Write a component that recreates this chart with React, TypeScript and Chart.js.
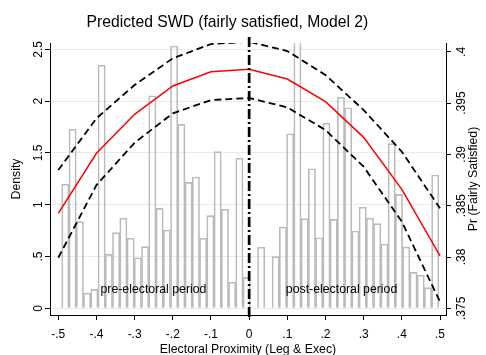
import React, { useEffect, useRef } from "react";
import { Chart, registerables } from "chart.js";

Chart.register(...registerables);

// Histogram bins (mid points) and densities (null = empty bin)
const BIN_MID = [
  -0.4815, -0.4625, -0.4435, -0.4245, -0.4055, -0.3865, -0.3675, -0.3485, -0.3295, -0.3105,
  -0.2915, -0.2725, -0.2535, -0.2345, -0.2155, -0.1965, -0.1775, -0.1585, -0.1395, -0.1205,
  -0.1015, -0.0825, -0.0635, -0.0445, -0.0255, -0.0065, 0.0125, 0.0315, 0.0505, 0.0695,
  0.0885, 0.1075, 0.1265, 0.1455, 0.1645, 0.1835, 0.2025, 0.2215, 0.2405, 0.2595,
  0.2785, 0.2975, 0.3165, 0.3355, 0.3545, 0.3735, 0.3925, 0.4115, 0.4305, 0.4495,
  0.4685, 0.4875,
];
const DENSITY: (number | null)[] = [
  1.197, 1.728, 0.836, 0.145, 0.183, 2.348, 0.521, 0.73, 0.869, 0.676,
  0.488, 0.595, 2.052, 0.965, 0.756, 2.532, 1.776, 1.216, 1.267, 0.676,
  0.894, 1.512, 0.956, 0.251, 1.448, 0.299, null, 0.589, null, 0.498,
  0.785, 1.685, 2.573, 0.865, 1.347, 0.681, 1.786, 0.859, 2.037, 1.936,
  0.746, 0.975, 0.869, 0.817, 0.621, 1.589, 1.1, 0.592, 0.347, 0.319,
  0.199, 1.287,
];

// Predicted probabilities with confidence bounds
const PRED_X = [-0.5, -0.4, -0.3, -0.2, -0.1, 0, 0.1, 0.2, 0.3, 0.4, 0.5];
const PRED = [0.38426, 0.3901, 0.3939, 0.39666, 0.39805, 0.39829, 0.39734, 0.39513, 0.39166, 0.38659, 0.3801];
const UPPER = [0.38847, 0.39351, 0.39676, 0.39936, 0.40075, 0.40097, 0.40007, 0.39773, 0.39432, 0.39026, 0.38474];
const LOWER = [0.37993, 0.38701, 0.39113, 0.394, 0.39529, 0.39549, 0.39458, 0.39237, 0.3888, 0.38344, 0.37564];

const X_TICKS = [-0.5, -0.4, -0.3, -0.2, -0.1, 0, 0.1, 0.2, 0.3, 0.4, 0.5];
const X_TICK_LABELS = ["-.5", "-.4", "-.3", "-.2", "-.1", "0", ".1", ".2", ".3", ".4", ".5"];
const LEFT_TICKS = [0, 0.5, 1, 1.5, 2, 2.5];
const LEFT_TICK_LABELS = ["0", ".5", "1", "1.5", "2", "2.5"];
const RIGHT_TICKS = [0.375, 0.38, 0.385, 0.39, 0.395, 0.4];
const RIGHT_TICK_LABELS = [".375", ".38", ".385", ".39", ".395", ".4"];

const TITLE = "Predicted SWD (fairly satisfied, Model 2)";
const X_TITLE = "Electoral Proximity (Leg & Exec)";
const Y_TITLE = "Density";
const Y2_TITLE = "Pr (Fairly Satisfied)";
const PRE_LABEL = "pre-electoral period";
const POST_LABEL = "post-electoral period";

const FONT = '"Liberation Sans", Arial, Helvetica, sans-serif';
const f = (s: number) => `${s}px ${FONT}`;

const decor = {
  id: "decor",
  afterDatasetsDraw(chart: any) {
    const { ctx, chartArea, scales } = chart;
    const x0 = scales.x.getPixelForValue(0);
    ctx.save();
    ctx.strokeStyle = "#000";
    ctx.lineWidth = 2.7;
    ctx.setLineDash([10, 3, 2, 3]);
    ctx.beginPath();
    ctx.moveTo(x0, chartArea.top - 6);
    ctx.lineTo(x0, chartArea.bottom + 3);
    ctx.stroke();
    ctx.restore();
  },
  afterDraw(chart: any) {
    const { ctx, chartArea, scales } = chart;
    ctx.save();
    ctx.fillStyle = "#000";
    // title
    ctx.font = f(15.7);
    ctx.textAlign = "center";
    ctx.textBaseline = "alphabetic";
    ctx.fillText(TITLE, 227.4, 26.5);

    // x tick labels
    ctx.font = f(12);
    X_TICKS.forEach((v, i) => {
      ctx.fillText(X_TICK_LABELS[i], scales.x.getPixelForValue(v), chartArea.bottom + 22.5);
    });
    // x title
    ctx.font = f(12.3);
    ctx.fillText(X_TITLE, (chartArea.left + chartArea.right) / 2, chartArea.bottom + 37.5);

    const rot = (text: string, x: number, y: number, size: number) => {
      ctx.save();
      ctx.font = f(size);
      ctx.translate(x, y);
      ctx.rotate(-Math.PI / 2);
      ctx.textAlign = "center";
      ctx.textBaseline = "alphabetic";
      ctx.fillText(text, 0, 0);
      ctx.restore();
    };
    LEFT_TICKS.forEach((v, i) => rot(LEFT_TICK_LABELS[i], chartArea.left - 8.3, scales.y.getPixelForValue(v), 12));
    RIGHT_TICKS.forEach((v, i) => rot(RIGHT_TICK_LABELS[i], chartArea.right + 19, scales.y2.getPixelForValue(v), 12));
    const midY = (chartArea.top + chartArea.bottom) / 2;
    rot(Y_TITLE, 20, midY, 12.3);
    rot(Y2_TITLE, chartArea.right + 30.5, midY, 12.3);

    // period labels
    ctx.font = f(12.3);
    ctx.textAlign = "center";
    ctx.textBaseline = "middle";
    ctx.fillText(PRE_LABEL, scales.x.getPixelForValue(-0.2507), scales.y.getPixelForValue(0.18));
    ctx.fillText(POST_LABEL, scales.x.getPixelForValue(0.242), scales.y.getPixelForValue(0.18));
    ctx.restore();
  },
};

export default function App() {
  const ref = useRef<HTMLCanvasElement | null>(null);
  useEffect(() => {
    if (!ref.current) return;
    const lineDs = (vals: number[], color: string, dash: number[], width: number, order: number) => ({
      type: "line" as const,
      data: PRED_X.map((x, i) => ({ x, y: vals[i] })),
      borderColor: color,
      borderWidth: width,
      borderDash: dash,
      pointRadius: 0,
      tension: 0,
      fill: false,
      yAxisID: "y2",
      order,
    });
    const chart = new Chart(ref.current, {
      type: "bar",
      data: {
        datasets: [
          lineDs(PRED, "#ff0000", [], 1.5, 1),
          lineDs(UPPER, "#000000", [7, 4], 1.8, 2),
          lineDs(LOWER, "#000000", [7, 4], 1.8, 3),
          {
            type: "bar",
            data: BIN_MID.map((x, i) => ({ x, y: DENSITY[i] })),
            borderColor: "#bababa",
            borderWidth: 1,
            backgroundColor: "rgba(255,255,255,0)",
            barPercentage: 1,
            categoryPercentage: 1,
            grouped: false,
            yAxisID: "y",
            order: 10,
          } as any,
        ],
      },
      options: {
        animation: false,
        responsive: false,
        devicePixelRatio: 1,
        layout: { padding: { top: 43, left: 0, right: 0, bottom: 0 } },
        plugins: { legend: { display: false }, tooltip: { enabled: false }, title: { display: false } },
        scales: {
          x: {
            type: "linear",
            min: -0.5217,
            max: 0.5157,
            offset: false,
            afterBuildTicks: (s: any) => {
              s.ticks = X_TICKS.map((v) => ({ value: v }));
            },
            afterFit: (s: any) => {
              s.height = 40;
            },
            ticks: { display: false },
            grid: { display: true, drawOnChartArea: false, drawTicks: true, tickLength: 5, color: "#000", offset: false },
            border: { display: true, color: "#000", width: 1 },
          },
          y: {
            type: "linear",
            position: "left",
            min: -0.0647,
            max: 2.5608,
            afterBuildTicks: (s: any) => {
              s.ticks = LEFT_TICKS.map((v) => ({ value: v }));
            },
            afterFit: (s: any) => {
              s.width = 50;
            },
            ticks: { display: false },
            grid: { display: true, drawOnChartArea: true, color: "#e4ecee", tickColor: "#000", tickLength: 5 },
            border: { display: true, color: "#000", width: 1 },
          },
          y2: {
            type: "linear",
            position: "right",
            min: 0.37435,
            max: 0.40085,
            afterBuildTicks: (s: any) => {
              s.ticks = RIGHT_TICKS.map((v) => ({ value: v }));
            },
            afterFit: (s: any) => {
              s.width = 40;
            },
            ticks: { display: false },
            grid: { display: true, drawOnChartArea: false, color: "#000", tickLength: 5 },
            border: { display: true, color: "#000", width: 1 },
          },
        },
      } as any,
      plugins: [decor],
    });
    return () => chart.destroy();
  }, []);
  return (
    <div style={{ position: "fixed", left: 0, top: 0, width: 486, height: 355, background: "#fff" }}>
      <canvas ref={ref} width={486} height={355} style={{ display: "block" }} />
    </div>
  );
}
